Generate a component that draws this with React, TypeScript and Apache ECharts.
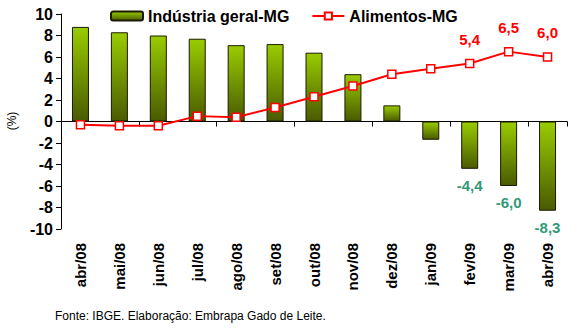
import React, { useEffect, useRef } from "react";
import * as echarts from "echarts";

const categories = ["abr/08", "mai/08", "jun/08", "jul/08", "ago/08", "set/08", "out/08", "nov/08", "dez/08", "jan/09", "fev/09", "mar/09", "abr/09"];
const industria = [8.8, 8.3, 8.0, 7.7, 7.1, 7.2, 6.4, 4.4, 1.5, -1.7, -4.4, -6.0, -8.3];
const alimentos = [-0.3, -0.4, -0.4, 0.5, 0.4, 1.3, 2.3, 3.3, 4.4, 4.9, 5.4, 6.5, 6.0];
const labeledFrom = 10;
const yTicks = { min: -10, max: 10, interval: 2 };

const FONT = "Arial, 'Liberation Sans', sans-serif";
const fmt = (v: number) => v.toFixed(1).replace(".", ",");

export default function App() {
  const ref = useRef<HTMLDivElement>(null);
  useEffect(() => {
    if (!ref.current) return;
    const chart = echarts.init(ref.current, null, { renderer: "svg" });
    const barGrad = new echarts.graphic.LinearGradient(0, 0, 0, 1, [
      { offset: 0, color: "#99cc00" },
      { offset: 1, color: "#4a5a00" },
    ]);
    chart.setOption({
      animation: false,
      backgroundColor: "#ffffff",
      textStyle: { fontFamily: FONT },
      legend: {
        top: 3,
        left: 105,
        itemWidth: 32,
        itemHeight: 9,
        itemGap: 22,
        textStyle: { fontFamily: FONT, fontSize: 16, fontWeight: "bold", color: "#000" },
        data: ["Indústria geral-MG", "Alimentos-MG"],
      },
      grid: { left: 61, top: 14, right: 10, bottom: 100 },
      xAxis: [
        {
          type: "category",
          data: categories,
          position: "bottom",
          axisLine: { onZero: true, lineStyle: { color: "#000", width: 1 } },
          axisTick: { show: true, length: 5, lineStyle: { color: "#000" } },
          axisLabel: { show: false },
        },
        {
          type: "category",
          data: categories,
          position: "bottom",
          axisLine: { show: false, onZero: false },
          axisTick: { show: false },
          axisLabel: {
            rotate: 90,
            margin: 14,
            fontFamily: FONT,
            fontSize: 15,
            fontWeight: "bold",
            color: "#000",
          },
        },
      ],
      yAxis: {
        type: "value",
        min: yTicks.min,
        max: yTicks.max,
        interval: yTicks.interval,
        axisLine: { show: true, lineStyle: { color: "#000" } },
        axisTick: { show: true, length: 5, lineStyle: { color: "#000" } },
        splitLine: { show: false },
        axisLabel: { fontFamily: FONT, fontSize: 16, fontWeight: "bold", color: "#000", margin: 8 },
      },
      graphic: [
        {
          type: "text",
          x: 12,
          y: 121,
          rotation: Math.PI / 2,
          style: { text: "(%)", fontFamily: FONT, fontSize: 12, fill: "#000", align: "center", verticalAlign: "middle" },
        },
        {
          type: "text",
          x: 55,
          y: 310,
          style: { text: "Fonte: IBGE. Elaboração: Embrapa Gado de Leite.", fontFamily: FONT, fontSize: 12, fill: "#000" },
        },
      ],
      series: [
        {
          name: "Indústria geral-MG",
          type: "bar",
          xAxisIndex: 0,
          barWidth: 17,
          itemStyle: { color: barGrad, borderColor: "#1a1a00", borderWidth: 1 },
          data: industria.map((v, i) => ({
            value: v,
            label: {
              show: i >= labeledFrom,
              position: "bottom",
              distance: 9,
              formatter: () => fmt(v),
              fontFamily: FONT,
              fontSize: 15,
              fontWeight: "bold",
              color: "#339977",
            },
          })),
        },
        {
          name: "Alimentos-MG",
          type: "line",
          xAxisIndex: 0,
          symbol: "rect",
          symbolSize: 8,
          lineStyle: { color: "#ff0000", width: 2 },
          itemStyle: { color: "#ffffff", borderColor: "#ff0000", borderWidth: 1.5 },
          data: alimentos.map((v, i) => ({
            value: v,
            label: {
              show: i >= labeledFrom,
              position: "top",
              distance: 12,
              formatter: () => fmt(v),
              fontFamily: FONT,
              fontSize: 15,
              fontWeight: "bold",
              color: "#ff0000",
            },
          })),
        },
      ],
    });
    return () => chart.dispose();
  }, []);
  return <div ref={ref} style={{ width: 577, height: 329, position: "absolute", left: 0, top: 0 }} />;
}
